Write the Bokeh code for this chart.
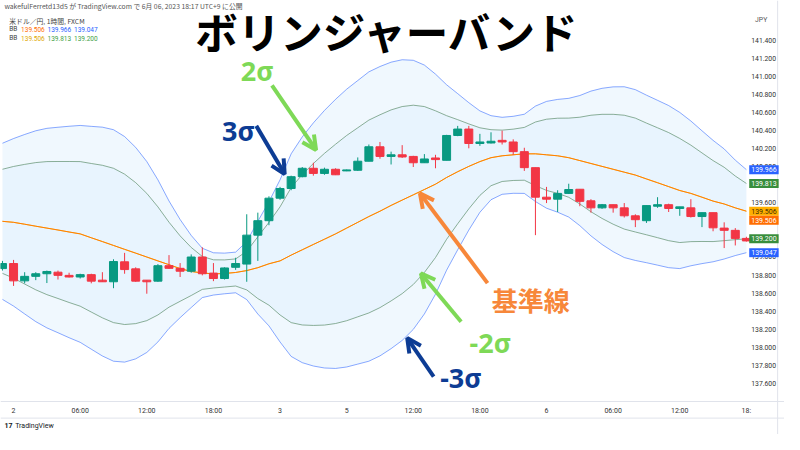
from bokeh.plotting import figure
from bokeh.models import (Range1d, FixedTicker, PrintfTickFormatter, Label, Arrow, OpenHead,
                          ColumnDataSource, Span)
from bokeh.embed import file_html
from bokeh.resources import INLINE

# ---------------- data (USD/JPY 1h) ----------------
opens = [138.871, 138.927, 138.735, 138.785, 138.814, 138.831, 138.796, 138.778, 138.804, 138.743,
         138.725, 138.946, 138.868, 138.743, 138.732, 138.903, 138.874, 138.842, 138.999, 138.821,
         138.761, 138.885, 138.921, 139.241, 139.401, 139.650, 139.757, 139.888, 139.981, 139.924,
         139.970, 139.952, 139.959, 140.059, 140.219, 140.112, 140.130, 140.112, 140.042, 140.095,
         140.069, 140.344, 140.415, 140.255, 140.261, 140.290, 140.272, 140.165, 139.988, 139.661,
         139.639, 139.703, 139.749, 139.621, 139.543, 139.578, 139.543, 139.455, 139.401, 139.561,
         139.578, 139.536, 139.543, 139.447, 139.490, 139.319, 139.294, 139.205]
highs = [138.956, 138.967, 138.831, 138.831, 138.849, 138.849, 138.825, 138.814, 138.814, 138.831,
         138.974, 139.045, 138.885, 138.743, 138.921, 139.020, 138.932, 139.028, 139.106, 138.932,
         138.885, 138.991, 139.472, 139.490, 139.671, 139.775, 139.899, 139.995, 140.042, 139.988,
         139.981, 139.967, 140.101, 140.244, 140.272, 140.165, 140.237, 140.119, 140.138, 140.130,
         140.351, 140.450, 140.450, 140.362, 140.379, 140.397, 140.301, 140.208, 139.988, 139.775,
         139.738, 139.810, 139.749, 139.639, 139.586, 139.578, 139.596, 139.472, 139.568, 139.661,
         139.589, 139.554, 139.639, 139.490, 139.490, 139.383, 139.319, 139.223]
lows = [138.849, 138.679, 138.708, 138.743, 138.711, 138.750, 138.772, 138.761, 138.708, 138.725,
        138.654, 138.814, 138.725, 138.593, 138.725, 138.868, 138.778, 138.825, 138.796, 138.732,
        138.750, 138.857, 138.725, 138.956, 139.351, 139.632, 139.738, 139.881, 139.899, 139.909,
        139.906, 139.949, 139.952, 140.059, 140.087, 140.023, 140.095, 139.995, 140.042, 139.981,
        140.069, 140.336, 140.202, 140.229, 140.255, 140.244, 140.130, 139.952, 139.241, 139.596,
        139.497, 139.696, 139.561, 139.490, 139.532, 139.490, 139.436, 139.330, 139.376, 139.543,
        139.497, 139.455, 139.436, 139.330, 139.284, 139.098, 139.127, 139.170]
closes = [138.927, 138.735, 138.785, 138.814, 138.839, 138.796, 138.778, 138.804, 138.732, 138.725,
          138.949, 138.860, 138.732, 138.725, 138.903, 138.874, 138.842, 138.999, 138.814, 138.761,
          138.878, 138.927, 139.241, 139.401, 139.650, 139.757, 139.888, 139.981, 139.924, 139.970,
          139.909, 139.963, 140.059, 140.219, 140.112, 140.130, 140.106, 140.042, 140.084, 140.077,
          140.344, 140.415, 140.255, 140.272, 140.280, 140.272, 140.165, 139.988, 139.661, 139.639,
          139.703, 139.746, 139.615, 139.543, 139.578, 139.543, 139.455, 139.412, 139.568, 139.578,
          139.536, 139.554, 139.447, 139.490, 139.322, 139.294, 139.205, 139.177]

bb_basis = [139.394, 139.383, 139.362, 139.340, 139.319, 139.298, 139.276, 139.255, 139.212, 139.170,
            139.127, 139.084, 139.042, 138.999, 138.956, 138.914, 138.871, 138.839, 138.823, 138.812,
            138.817, 138.828, 138.849, 138.881, 138.924, 138.956, 139.020, 139.079, 139.138, 139.196,
            139.255, 139.319, 139.383, 139.447, 139.506, 139.570, 139.629, 139.687, 139.746, 139.805,
            139.879, 139.943, 140.002, 140.055, 140.098, 140.119, 140.130, 140.141, 140.141, 140.130,
            140.119, 140.098, 140.066, 140.034, 140.002, 139.970, 139.938, 139.906, 139.863, 139.821,
            139.778, 139.735, 139.703, 139.661, 139.618, 139.586, 139.543, 139.506]
bb3_upper = [140.258, 140.310, 140.355, 140.396, 140.423, 140.435, 140.446, 140.455, 140.445, 140.436,
             140.408, 140.332, 140.212, 140.055, 139.853, 139.619, 139.414, 139.238, 139.096, 139.046,
             139.042, 139.053, 139.170, 139.394, 139.611, 139.853, 140.141, 140.328, 140.483, 140.621,
             140.744, 140.856, 140.952, 141.048, 141.107, 141.155, 141.182, 141.176, 141.123, 141.023,
             140.905, 140.807, 140.707, 140.616, 140.563, 140.545, 140.556, 140.579, 140.669, 140.721,
             140.743, 140.755, 140.786, 140.835, 140.866, 140.882, 140.883, 140.851, 140.790, 140.733,
             140.675, 140.599, 140.504, 140.396, 140.290, 140.195, 140.071, 139.966]
bb3_lower = [138.530, 138.456, 138.369, 138.284, 138.215, 138.161, 138.106, 138.055, 137.979, 137.904,
             137.846, 137.836, 137.872, 137.943, 138.059, 138.209, 138.328, 138.440, 138.550, 138.578,
             138.592, 138.603, 138.528, 138.368, 138.237, 138.059, 137.899, 137.830, 137.793, 137.771,
             137.766, 137.782, 137.814, 137.846, 137.905, 137.985, 138.076, 138.198, 138.369, 138.587,
             138.853, 139.079, 139.297, 139.494, 139.633, 139.693, 139.704, 139.703, 139.613, 139.539,
             139.495, 139.441, 139.346, 139.233, 139.138, 139.058, 138.993, 138.961, 138.936, 138.909,
             138.881, 138.871, 138.902, 138.926, 138.946, 138.977, 139.015, 139.047]
bb2_upper = [139.970, 140.001, 140.024, 140.044, 140.055, 140.056, 140.056, 140.055, 140.034, 140.014,
             139.981, 139.916, 139.822, 139.703, 139.554, 139.384, 139.233, 139.105, 139.005, 138.968,
             138.967, 138.978, 139.063, 139.223, 139.382, 139.554, 139.767, 139.911, 140.034, 140.146,
             140.247, 140.344, 140.429, 140.514, 140.573, 140.627, 140.664, 140.679, 140.664, 140.617,
             140.563, 140.519, 140.472, 140.429, 140.408, 140.403, 140.414, 140.433, 140.493, 140.524,
             140.535, 140.536, 140.546, 140.568, 140.578, 140.578, 140.568, 140.536, 140.481, 140.429,
             140.376, 140.311, 140.237, 140.151, 140.066, 139.992, 139.895, 139.813]
bb2_lower = [138.818, 138.765, 138.700, 138.636, 138.583, 138.540, 138.496, 138.455, 138.390, 138.326,
             138.273, 138.252, 138.262, 138.295, 138.358, 138.444, 138.509, 138.573, 138.641, 138.656,
             138.667, 138.678, 138.635, 138.539, 138.466, 138.358, 138.273, 138.247, 138.242, 138.246,
             138.263, 138.294, 138.337, 138.380, 138.439, 138.513, 138.594, 138.695, 138.828, 138.993,
             139.195, 139.367, 139.532, 139.681, 139.788, 139.835, 139.846, 139.849, 139.789, 139.736,
             139.703, 139.660, 139.586, 139.500, 139.426, 139.362, 139.308, 139.276, 139.245, 139.213,
             139.180, 139.159, 139.169, 139.171, 139.170, 139.180, 139.191, 139.200]

time_tick_bars = [1, 7, 13, 19, 25, 31, 37, 43, 49, 55, 61, 67]
time_tick_labels = ["2", "06:00", "12:00", "18:00", "3", "5", "12:00", "18:00", "6", "06:00", "12:00", "18:"]
price_ticks = [141.4, 141.2, 141.0, 140.8, 140.6, 140.4, 140.2, 140.0, 139.8, 139.6,
               139.4, 139.2, 139.0, 138.8, 138.6, 138.4, 138.2, 138.0, 137.8, 137.6]

last_bb3 = [139.506, 139.966, 139.047]   # basis, upper, lower (3σ)
last_bb2 = [139.506, 139.813, 139.200]   # basis, upper, lower (2σ)

# ---------- helpers: position in the 800x450 reference -> data coords (layout only) ----------
BAR_PX, BAR0_PX = 11.33, 2.0
PX_PER_YEN = 93.7


def px_x(X):
    return (X - BAR0_PX) / BAR_PX


def px_y(Y):
    return 141.4 - (Y - 41.0) / PX_PER_YEN


GREEN, RED = "#089981", "#F23645"
BLUE, GR2 = "#2962FF", "#5E8F6C"
ORANGE, YELLOW = "#FF6D00", "#FFB000"
FONT = "Roboto"

idx = list(range(len(closes)))
body_top = [max(o, c) for o, c in zip(opens, closes)]
body_bot = [min(o, c) for o, c in zip(opens, closes)]
colors = [GREEN if c >= o else RED for o, c in zip(opens, closes)]

src = ColumnDataSource(dict(x=idx, o=opens, h=highs, l=lows, c=closes, top=body_top, bot=body_bot,
                            col=colors, mid=bb_basis, u3=bb3_upper, l3=bb3_lower,
                            u2=bb2_upper, l2=bb2_lower))

p = figure(width=784, height=434, output_backend="svg", toolbar_location=None,
           x_range=Range1d(px_x(0), px_x(800)), y_range=Range1d(px_y(450), px_y(0)),
           y_axis_location="right", min_border_left=0, min_border_top=0,
           min_border_right=0, min_border_bottom=0)
p.outline_line_color = None
p.grid.visible = False
p.background_fill_color = "white"
p.border_fill_color = "white"

# band fills
p.varea(x="x", y1="l3", y2="u3", source=src, fill_color="#2196F3", fill_alpha=0.065)
p.varea(x="x", y1="l2", y2="u2", source=src, fill_color="#2196F3", fill_alpha=0.035)

# band lines
for col, c, a in [("u3", BLUE, 0.55), ("l3", BLUE, 0.55), ("u2", GR2, 0.7), ("l2", GR2, 0.7)]:
    p.line(x="x", y=col, source=src, line_color=c, line_alpha=a, line_width=1)
p.line(x="x", y="mid", source=src, line_color=YELLOW, line_width=1)
p.line(x="x", y="mid", source=src, line_color=ORANGE, line_alpha=0.75, line_width=1)

# candles
p.segment(x0="x", y0="h", x1="x", y1="l", source=src, line_color="col", line_width=1)
p.vbar(x="x", width=0.72, top="top", bottom="bot", source=src, fill_color="col", line_color="col")

# axes (placed at the chart edges, labels inside the canvas)
ax = p.yaxis[0]
ax.fixed_location = px_x(762)
ax.ticker = FixedTicker(ticks=price_ticks)
ax.formatter = PrintfTickFormatter(format="%.3f")
ax.major_tick_line_color = None
ax.minor_tick_line_color = None
ax.major_tick_out = 0
ax.major_tick_in = 0
ax.axis_line_color = None
ax.major_label_standoff = 4
ax.major_label_text_font = FONT
ax.major_label_text_font_size = "6.8px"
ax.major_label_text_color = "#333333"

xa = p.xaxis[0]
xa.fixed_location = px_y(416)
xa.ticker = FixedTicker(ticks=time_tick_bars)
xa.major_label_overrides = {b: t for b, t in zip(time_tick_bars, time_tick_labels)}
xa.major_tick_line_color = None
xa.minor_tick_line_color = None
xa.major_tick_out = 0
xa.major_tick_in = 0
xa.axis_line_color = "#E0E3EB"
xa.major_label_standoff = 5
xa.major_label_text_font = FONT
xa.major_label_text_font_size = "7px"
xa.major_label_text_color = "#333333"

p.add_layout(Span(location=px_y(433), dimension="width", line_color="#E0E3EB", line_width=1))
p.add_layout(Span(location=px_x(793), dimension="height", line_color="#E0E3EB", line_width=1))


def lab(X, Y, text, color="#333333", size="7px", font=FONT, style="normal", align="left"):
    p.add_layout(Label(x=px_x(X), y=px_y(Y), text=text, text_color=color, text_font_size=size,
                       text_font=font, text_font_style=style, text_align=align,
                       text_baseline="middle"))


# header texts
lab(4, 6, "wakefulFerretd13d5 が TradingView.com で 6月 06, 2023 18:17 UTC+9 に公開", "#555555",
    size="6.8px", font="Noto Sans CJK JP")
lab(9, 21, "米ドル／円, 1時間, FXCM", "#444444", size="6.8px", font="Noto Sans CJK JP")
lab(9, 30, "BB", "#444444", size="6.5px")
lab(21, 30, f"{last_bb3[0]:.3f}", ORANGE, size="6.5px")
lab(48, 30, f"{last_bb3[1]:.3f}", BLUE, size="6.5px")
lab(75, 30, f"{last_bb3[2]:.3f}", BLUE, size="6.5px")
lab(9, 39, "BB", "#444444", size="6.5px")
lab(21, 39, f"{last_bb2[0]:.3f}", "#E0A800", size="6.5px")
lab(48, 39, f"{last_bb2[1]:.3f}", "#43A047", size="6.5px")
lab(75, 39, f"{last_bb2[2]:.3f}", "#43A047", size="6.5px")

lab(770, 20, "JPY", "#555555", size="6.8px")


# price badges on the right scale
def badge(price, bg, fg="white", dy_px=0.0):
    p.add_layout(Label(x=px_x(764), y=price - dy_px / PX_PER_YEN, text=f"{price:.3f}",
                       text_color=fg, text_font_size="7px", text_font=FONT, text_align="left",
                       text_baseline="middle", background_fill_color=bg,
                       background_fill_alpha=1.0, padding=2))


badge(last_bb3[1], BLUE)
badge(last_bb2[1], "#388E3C")
badge(last_bb2[0], YELLOW, fg="#3a2a00")
badge(last_bb3[0], ORANGE, dy_px=9.5)
badge(last_bb2[2], "#388E3C")
badge(last_bb3[2], BLUE)

# title
lab(394, 31, "ボリンジャーバンド", "#000000", size="42.5px", font="Noto Sans CJK JP", style="bold",
    align="center")

# annotation texts
C_G, C_B, C_O = "#7ED957", "#0D3C94", "#F7873A"
lab(262, 73, "2σ", C_G, size="27px", font="Noto Sans", style="bold", align="center")
lab(243, 135, "3σ", C_B, size="27px", font="Noto Sans", style="bold", align="center")
lab(541, 310, "基準線", C_O, size="26px", font="Noto Sans CJK JP", style="bold", align="center")
lab(500, 355, "-2σ", C_G, size="27px", font="Noto Sans", style="bold", align="center")
lab(470, 391, "-3σ", C_B, size="27px", font="Noto Sans", style="bold", align="center")


def arrow(X0, Y0, X1, Y1, color):
    p.add_layout(Arrow(x_start=px_x(X0), y_start=px_y(Y0), x_end=px_x(X1), y_end=px_y(Y1),
                       line_color=color, line_width=4,
                       end=OpenHead(size=14, line_color=color, line_width=4)))


arrow(277, 88, 322, 155, C_G)
arrow(261, 130, 290, 180, C_B)
arrow(497, 293, 428, 200, C_O)
arrow(470, 333, 429, 283, C_G)
arrow(442, 390, 415, 350, C_B)

# footer logo
lab(4, 441, "17", "#131722", size="7px", style="bold")
lab(15, 441, "TradingView", "#131722", size="7px")

open("out.html", "w").write(file_html(p, INLINE))
